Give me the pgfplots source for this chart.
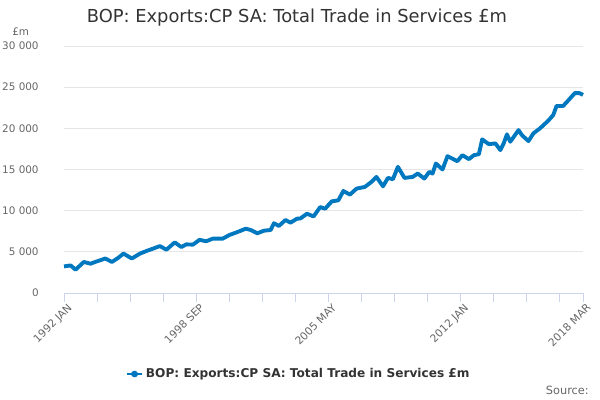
\documentclass[border=0pt]{standalone}
\usepackage{pgfplots}
\pgfplotsset{compat=1.18}
\usepackage{fontspec}
\setmainfont{DejaVu Sans}
\definecolor{linec}{RGB}{0,120,192}
\definecolor{gridc}{HTML}{E6E6E6}
\definecolor{axisc}{HTML}{CCD6EB}
\definecolor{labc}{HTML}{666666}
\definecolor{titc}{HTML}{333333}
\begin{document}
\begin{tikzpicture}
\path[use as bounding box] (0,0) rectangle (450pt,300pt);
\begin{axis}[
  at={(48pt,80.25pt)}, anchor=south west,
  scale only axis, width=389.25pt, height=185.25pt,
  xmin=0, xmax=314, ymin=0, ymax=30000,
  axis x line=bottom, axis y line=left,
  x axis line style={-, draw=axisc, line width=0.75pt},
  y axis line style={draw=none},
  ytick={0,5000,...,30000},
  scaled y ticks=false,
  ytick style={draw=none},
  xtick={0,80,160,240,314},
  minor xtick={20,40,60,100,120,140,180,200,220,260,280,300},
  xticklabels={1992 JAN,1998 SEP,2005 MAY,2012 JAN,2018 MAR},
  xtick style={draw=axisc, line width=0.75pt},
  minor x tick style={draw=axisc, line width=0.75pt},
  tick align=outside, major tick length=6.5pt, minor tick length=6.5pt,
  ymajorgrids, grid style={gridc, line width=0.75pt},
  /pgf/number format/assume math mode=true,
  /pgf/number format/1000 sep={\ },
  yticklabel style={font=\fontsize{7.8}{9}\selectfont, text=labc, xshift=-9pt},
  xticklabel style={font=\fontsize{8}{9}\selectfont, text=labc, rotate=45, anchor=north east, inner sep=1pt, xshift=2pt, yshift=-1pt},
  legend style={at={(0.4528,-0.328)}, anchor=center, draw=none, fill=none,
    font=\bfseries\fontsize{9.1}{11}\selectfont, text=titc},
  legend image code/.code={\draw[linec, line width=1.5pt] (0cm,0cm) -- (0.41cm,0cm);
    \fill[linec] (0.205cm,0cm) circle (1.3pt);},
  clip=false,
]
\addplot[linec, line width=2.9pt, line join=round] coordinates {
(0,3230) (4,3350) (7,2830) (12,3770) (16,3560) (20,3850) (25,4190) (29,3770)
(33,4300) (36,4790) (41,4190) (46,4790) (50,5110) (54,5400) (58,5700) (62,5260)
(67,6150) (71,5580) (74,5910) (78,5870) (82,6460) (86,6280) (90,6600) (96,6600)
(100,7040) (105,7410) (110,7810) (113,7650) (117,7250) (121,7570) (125,7650)
(127,8470) (130,8140) (134,8870) (137,8540) (141,9030) (143,9050) (147,9630)
(151,9300) (155,10440) (158,10240) (162,11130) (166,11260) (169,12390)
(173,11950) (177,12680) (182,12880) (186,13490) (189,14100) (193,12960)
(196,13980) (199,13820) (202,15320) (206,13980) (211,14100) (214,14510)
(218,13900) (221,14710) (223,14510) (225,15730) (229,15000) (232,16620)
(238,16010) (241,16740) (245,16260) (248,16740) (251,16860) (253,18660)
(257,18080) (261,18170) (264,17350) (266,18170) (268,19270) (270,18370)
(275,19790) (277,19180) (281,18450) (284,19390) (288,20000) (293,20930)
(296,21620) (298,22720) (302,22720) (305,23370) (309,24270) (312,24270)
(314,24060)
};
\addlegendentry{BOP: Exports:CP SA: Total Trade in Services £m}
\end{axis}
\node[text=titc, font=\fontsize{13.4}{16}\selectfont] at (222.75pt,286.5pt) {BOP: Exports:CP SA: Total Trade in Services £m};
\node[text=labc, font=\fontsize{7.8}{9}\selectfont, anchor=west, inner sep=0pt] at (9pt,276pt) {£m};
\node[text=labc, font=\fontsize{8.5}{10}\selectfont, anchor=east, inner sep=0pt] at (441.75pt,7.5pt) {Source:};
\end{tikzpicture}
\end{document}
